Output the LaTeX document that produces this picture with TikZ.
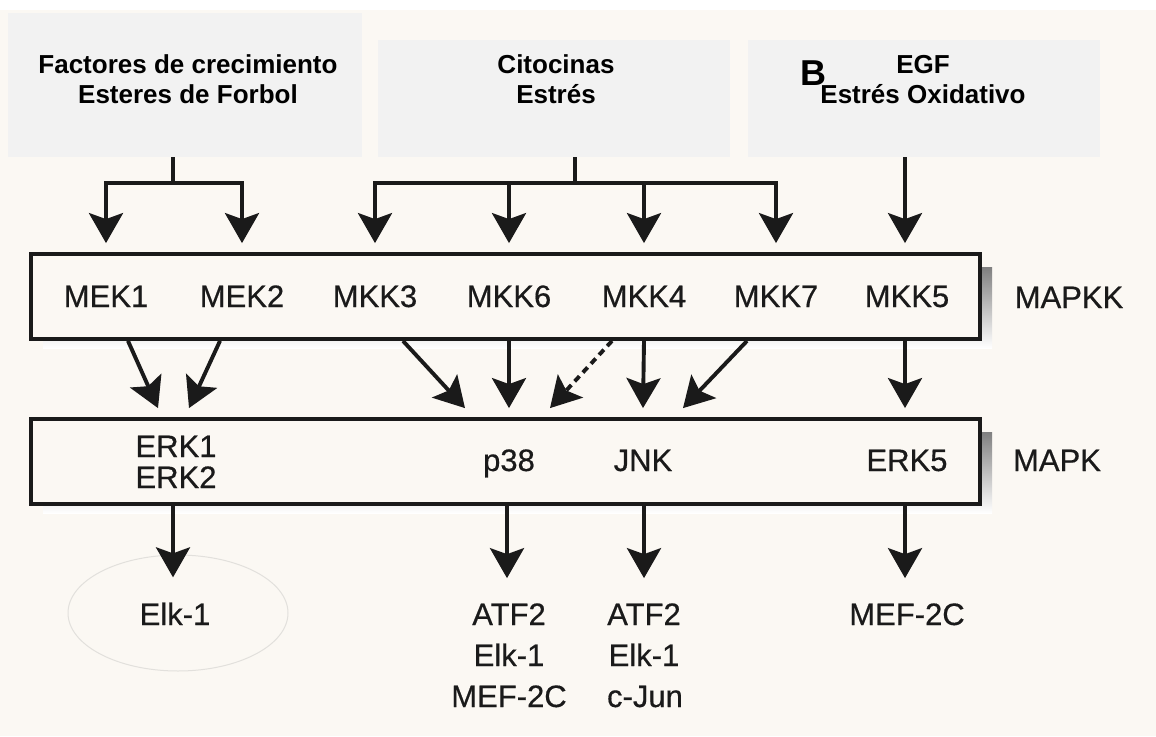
\documentclass[tikz,border=0pt]{standalone}
\usepackage{fontspec}
\setmainfont{Liberation Sans}
\newfontfamily\labelfont[FakeBold=0.5]{Liberation Sans}
\usetikzlibrary{arrows.meta}
\definecolor{paper}{HTML}{FBF8F3}
\definecolor{panel}{HTML}{F2F2F2}
\definecolor{ink}{HTML}{1A1A1A}
\definecolor{shade}{HTML}{C4C2BF}
\definecolor{pencil}{HTML}{E2E0DC}

\begin{document}
\begin{tikzpicture}[x=1pt,y=-1pt,
  arr/.style={draw=ink, line width=3.9pt,
    -{Stealth[length=30pt,width=34pt,inset=6pt]}},
  link/.style={draw=ink, line width=3.9pt},
  dotarr/.style={arr, dash pattern=on 7pt off 5pt},
  layer/.style={draw=ink, fill=paper, line width=3.8pt, rectangle,
    minimum width=949pt, minimum height=85pt, inner sep=0pt},
  panelbox/.style={fill=panel, rectangle, inner sep=0pt},
  head/.style={font=\bfseries\fontsize{26}{30}\selectfont, text=black,
    inner sep=0pt, anchor=base},
  lbl/.style={font=\labelfont\fontsize{31}{37}\selectfont, text=ink,
    inner sep=0pt, anchor=base}]

% page
\fill[paper] (0,0) rectangle (1156,736);
\fill[white] (0,0) rectangle (1156,10);
\useasboundingbox (0,0) rectangle (1156,736);

% stimulus panels
\node[panelbox, minimum width=354pt, minimum height=144pt] (p1) at (185,85) {};
\node[panelbox, minimum width=352pt, minimum height=117pt] (p2) at (554,98.5) {};
\node[panelbox, minimum width=352pt, minimum height=117pt] (p3) at (924,98.5) {};

\node[head] (p1a) at (188,73) {Factores de crecimiento};
\node[head] (p1b) at (188,103) {Esteres de Forbol};
\node[head] (p2a) at (556,73) {Citocinas};
\node[head] (p2b) at (556,103) {Estrés};
\node[head] (p3a) at (923,73) {EGF};
\node[head] (p3b) at (923,103) {Estrés Oxidativo};
\node[font=\bfseries\fontsize{36}{40}\selectfont, inner sep=0pt, anchor=base west]
  (panelB) at (800,85) {B};

% MAPKK layer with its shadow
\fill[shade] (43,267) rectangle (992,348);
\node[layer] (mapkk) at (505.5,296.5) {};
\node[lbl] (mek1) at (106,307) {MEK1};
\node[lbl] (mek2) at (242,307) {MEK2};
\node[lbl] (mkk3) at (375,307) {MKK3};
\node[lbl] (mkk6) at (509,307) {MKK6};
\node[lbl] (mkk4) at (644,307) {MKK4};
\node[lbl] (mkk7) at (776,307) {MKK7};
\node[lbl] (mkk5) at (907,307) {MKK5};
\node[lbl] (lmapkk) at (1069,308) {MAPKK};

% MAPK layer with its shadow
\fill[shade] (43,432) rectangle (992,513);
\node[layer] (mapk) at (505.5,461.5) {};
\node[lbl] (erk1) at (176,457) {ERK1};
\node[lbl] (erk2) at (176,488) {ERK2};
\node[lbl] (p38) at (509,471) {p38};
\node[lbl] (jnk) at (643,471) {JNK};
\node[lbl] (erk5) at (907,471) {ERK5};
\node[lbl] (lmapk) at (1057,471) {MAPK};

% substrates
\node[lbl] (sA) at (175,625) {Elk-1};
\node[lbl] (sB1) at (509,625) {ATF2};
\node[lbl] (sB2) at (509,666) {Elk-1};
\node[lbl] (sB3) at (509,707) {MEF-2C};
\node[lbl] (sC1) at (644,625) {ATF2};
\node[lbl] (sC2) at (644,666) {Elk-1};
\node[lbl] (sC3) at (645,707) {c-Jun};
\node[lbl] (sD) at (907,625) {MEF-2C};
\draw[pencil, line width=1pt] (178,613) ellipse [x radius=110, y radius=58];

% stimulus to MAPKK
\coordinate (j1) at (173,183);
\coordinate (j2) at (575,183);
\draw[link] (p1.south -| j1) -- (j1);
\draw[link] (p2.south -| j2) -- (j2);
\draw[arr] (j1) -| ([yshift=9pt]mapkk.north -| mek1);
\draw[arr] (j1) -| ([yshift=9pt]mapkk.north -| mek2);
\draw[arr] (j2) -| ([yshift=9pt]mapkk.north -| mkk3);
\draw[arr] (j2) -| ([yshift=9pt]mapkk.north -| mkk7);
\draw[arr] (j2 -| mkk6) -- ([yshift=9pt]mapkk.north -| mkk6);
\draw[arr] (j2 -| mkk4) -- ([yshift=9pt]mapkk.north -| mkk4);
\draw[arr] ([xshift=-2pt]p3.south -| mkk5) -- ([xshift=-2pt,yshift=9pt]mapkk.north -| mkk5);

% MAPKK to MAPK
\draw[arr] ([xshift=22pt]mapkk.south -| mek1) -- ([xshift=-18pt,yshift=9pt]mapk.north -| erk1);
\draw[arr] ([xshift=-22pt]mapkk.south -| mek2) -- ([xshift=13pt,yshift=9pt]mapk.north -| erk1);
\draw[arr] ([xshift=28pt]mapkk.south -| mkk3) -- ([xshift=-44pt,yshift=9pt]mapk.north -| p38);
\draw[arr] (mapkk.south -| mkk6) -- ([yshift=9pt]mapk.north -| p38);
\draw[dotarr] ([xshift=-32pt]mapkk.south -| mkk4) -- ([xshift=41pt,yshift=9pt]mapk.north -| p38);
\draw[arr] (mapkk.south -| mkk4) -- ([yshift=9pt]mapk.north -| jnk);
\draw[arr] ([xshift=-29pt]mapkk.south -| mkk7) -- ([xshift=40pt,yshift=9pt]mapk.north -| jnk);
\draw[arr] ([xshift=-2pt]mapkk.south -| mkk5) -- ([xshift=-2pt,yshift=9pt]mapk.north -| erk5);

% MAPK to substrates
\draw[arr] ([xshift=-2pt]mapk.south -| sA) -- ([xshift=-2pt,yshift=25pt]sA.north);
\draw[arr] ([xshift=-2pt]mapk.south -| sB1) -- ([xshift=-2pt,yshift=25pt]sB1.north);
\draw[arr] (mapk.south -| sC1) -- ([yshift=25pt]sC1.north);
\draw[arr] ([xshift=-2pt]mapk.south -| sD) -- ([xshift=-2pt,yshift=25pt]sD.north);
\end{tikzpicture}
\end{document}
